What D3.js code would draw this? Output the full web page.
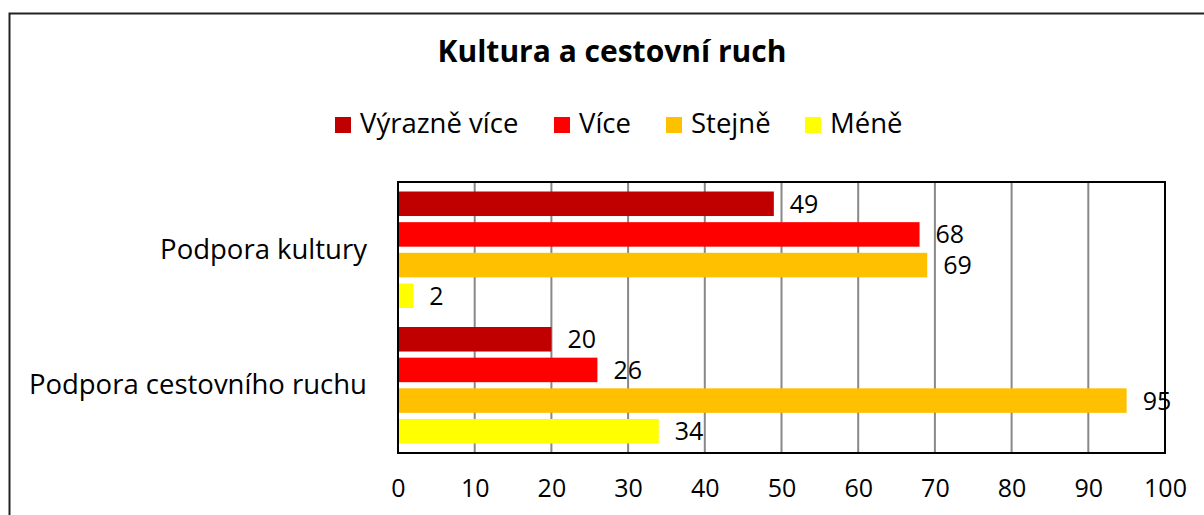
<!DOCTYPE html>
<html>
<head>
<meta charset="utf-8">
<script src="https://cdn.jsdelivr.net/npm/d3@7"></script>
<style>
  body { margin: 0; background: #fff; }
  svg text { font-family: "Open Sans", "Noto Sans", sans-serif; fill: #000; }
</style>
</head>
<body>
<div id="chart"></div>
<script>
// data
var categories = ["Podpora kultury", "Podpora cestovního ruchu"];
var seriesNames = ["Výrazně více", "Více", "Stejně", "Méně"];
var seriesColors = ["#C00000", "#FF0000", "#FFC000", "#FFFF00"];
var kulturaValues = [49, 68, 69, 2];
var cestovniValues = [20, 26, 95, 34];
var xTicks = [0, 10, 20, 30, 40, 50, 60, 70, 80, 90, 100];

var W = 1204, H = 515;
var margin = {top: 182, right: 39, bottom: 62, left: 398};
var width = W - margin.left - margin.right,
    height = H - margin.top - margin.bottom;

var svg = d3.select("#chart").append("svg")
    .attr("width", W).attr("height", H);

// outer chart border
svg.append("rect")
    .attr("x", 9.5).attr("y", 13.5)
    .attr("width", W + 20).attr("height", H + 20)
    .attr("fill", "none").attr("stroke", "#222").attr("stroke-width", 2);

// title
svg.append("text")
    .attr("x", 612).attr("y", 62)
    .attr("text-anchor", "middle")
    .style("font-size", "30px").style("font-weight", "bold")
    .text("Kultura a cestovní ruch");

// legend
var legendX = [335, 554, 666, 805];
var legend = svg.append("g");
seriesNames.forEach(function(name, i) {
  legend.append("rect")
    .attr("x", legendX[i]).attr("y", 117)
    .attr("width", 16).attr("height", 16)
    .attr("fill", seriesColors[i]);
  legend.append("text")
    .attr("x", legendX[i] + 25).attr("y", 133)
    .style("font-size", "27.5px")
    .text(name);
});

var g = svg.append("g")
    .attr("transform", "translate(" + margin.left + "," + margin.top + ")");

var x = d3.scaleLinear().domain([0, 100]).range([0, width]);
var y0 = d3.scaleBand().domain(categories).range([0, height]);
var y1 = d3.scaleBand().domain(seriesNames).range([0, y0.bandwidth()])
    .paddingInner(0.2).paddingOuter(0.31);

// gridlines
g.selectAll(".grid").data(xTicks.slice(1, -1)).enter().append("line")
    .attr("x1", function(d) { return x(d); })
    .attr("x2", function(d) { return x(d); })
    .attr("y1", 0).attr("y2", height)
    .attr("stroke", "#888").attr("stroke-width", 2);

var rows = categories.map(function(c, i) {
  var vals = i === 0 ? kulturaValues : cestovniValues;
  return seriesNames.map(function(s, j) { return {cat: c, s: s, v: vals[j], color: seriesColors[j]}; });
});
var flat = rows[0].concat(rows[1]);

g.selectAll(".bar").data(flat).enter().append("rect")
    .attr("x", 0)
    .attr("y", function(d) { return y0(d.cat) + y1(d.s); })
    .attr("width", function(d) { return x(d.v); })
    .attr("height", y1.bandwidth())
    .attr("fill", function(d) { return d.color; });

g.selectAll(".val").data(flat).enter().append("text")
    .attr("x", function(d) { return x(d.v) + 16; })
    .attr("y", function(d) { return y0(d.cat) + y1(d.s) + y1.bandwidth() / 2 + 9; })
    .style("font-size", "25px")
    .text(function(d) { return d.v; });

// plot frame
g.append("rect")
    .attr("x", 0).attr("y", 0).attr("width", width).attr("height", height)
    .attr("fill", "none").attr("stroke", "#000").attr("stroke-width", 2);

// x axis labels
var xAxis = g.append("g")
    .attr("transform", "translate(0," + height + ")")
    .call(d3.axisBottom(x).tickValues(xTicks).tickSize(0).tickPadding(26));
xAxis.select(".domain").remove();
xAxis.selectAll("text").style("font-size", "25px").attr("font-family", null);

// category labels
g.selectAll(".cat").data(categories).enter().append("text")
    .attr("x", -31)
    .attr("y", function(d) { return y0(d) + y0.bandwidth() / 2 + 9; })
    .attr("text-anchor", "end")
    .style("font-size", "27.5px")
    .text(function(d) { return d; });
</script>
</body>
</html>
